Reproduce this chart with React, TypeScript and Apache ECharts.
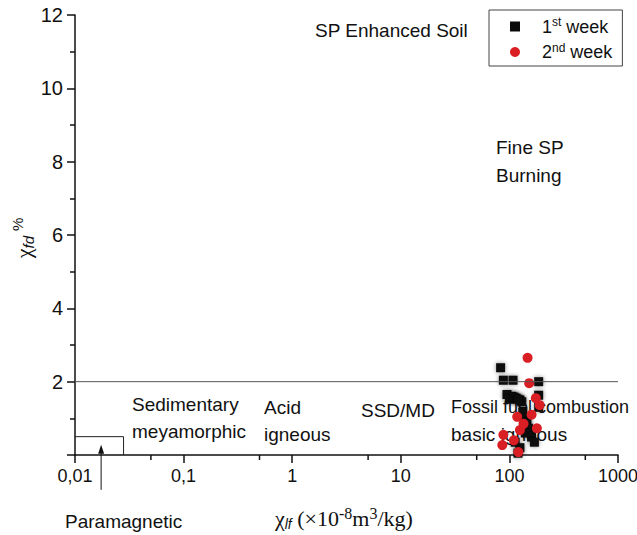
import React, { useEffect, useRef } from "react";
import * as echarts from "echarts";

const xTickLabels = ["0,01", "0,1", "1", "10", "100", "1000"];
const xMinorTicks = [0.05, 0.5, 5, 50, 500];
const yTicks = [0, 2, 4, 6, 8, 10, 12];

// 1st week (black squares): [chi_lf, chi_fd %]
const week1 = [
  [83, 2.38], [88, 2.04], [108, 2.04], [186, 2.0], [95, 1.65], [105, 1.6],
  [115, 1.55], [125, 1.5], [100, 1.52], [186, 1.63], [186, 1.3], [133, 1.17],
  [140, 1.0], [145, 0.9], [150, 0.73], [160, 0.49], [113, 0.35], [125, 0.2],
  [120, 0.05], [170, 0.35], [140, 0.6], [130, 1.45], [110, 1.58], [120, 1.52],
];
// 2nd week (red circles)
const week2 = [
  [147, 2.65], [152, 1.96], [190, 1.36], [175, 1.55], [118, 1.04], [179, 0.73],
  [125, 0.68], [88, 0.55], [86, 0.27], [121, 0.08], [110, 0.4], [135, 0.85],
  [160, 1.1],
];

const thresholdLine = [[0.01, 2], [1000, 2]];
const paramagneticBox = [[0.01, 0.5], [0.028, 0.5], [0.028, 0]];
const paramagneticArrow = [[0.0174, -0.95], [0.0174, 0.16]];

const SANS = "'Liberation Sans', Arial, sans-serif";
const SERIF = "'Liberation Serif', 'Times New Roman', serif";

export default function App() {
  const ref = useRef<HTMLDivElement>(null);
  useEffect(() => {
    document.body.style.margin = "0";
    const chart = echarts.init(ref.current!, null, { renderer: "svg" });
    const txt = (text: string, x: number, y: number, size = 19) => ({
      type: "text",
      x,
      y,
      style: { text, fontSize: size, fontFamily: SANS, fill: "#111", verticalAlign: "middle", align: "left" },
    });
    chart.setOption({
      animation: false,
      backgroundColor: "#fff",
      grid: { left: 75, right: 19, top: 15, bottom: 80, containLabel: false, outerBoundsMode: "none" },
      xAxis: {
        type: "log",
        logBase: 10,
        min: 0.01,
        max: 1000,
        axisLine: { lineStyle: { color: "#111", width: 1.5 } },
        axisTick: { inside: false, length: 8, lineStyle: { color: "#111", width: 1.5 } },
        axisLabel: {
          margin: 12,
          fontSize: 18,
          fontFamily: SANS,
          color: "#111",
          formatter: (v: number) => {
            const i = Math.round(Math.log10(v)) + 2;
            return xTickLabels[i] ?? String(v);
          },
        },
        splitLine: { show: false },
      },
      yAxis: {
        type: "value",
        min: yTicks[0],
        max: yTicks[yTicks.length - 1],
        interval: 2,
        axisLine: { show: true, lineStyle: { color: "#111", width: 1.5 } },
        axisTick: { show: true, inside: false, length: 8, lineStyle: { color: "#111", width: 1.5 } },
        minorTick: { show: true, splitNumber: 2, length: 5, lineStyle: { color: "#111", width: 1.5 } },
        axisLabel: {
          margin: 12,
          fontSize: 20,
          fontFamily: SANS,
          color: "#111",
          formatter: (v: number) => (v === 0 ? "" : String(v)),
        },
        splitLine: { show: false },
      },
      legend: {
        left: 489,
        top: 10,
        orient: "vertical",
        borderColor: "#444",
        borderWidth: 1,
        borderRadius: 0,
        padding: [6, 10, 5, 21],
        itemGap: 6,
        itemWidth: 10,
        itemHeight: 10,
        data: ["1st week", "2nd week"],
        formatter: (name: string) =>
          name === "1st week" ? "{f|1}{s|st}{n| week}" : "{f|2}{s|nd}{n| week}",
        textStyle: {
          rich: {
            f: { fontSize: 18, fontFamily: SANS, color: "#111", lineHeight: 21, padding: [0, 0, 0, 17] },
            n: { fontSize: 18, fontFamily: SANS, color: "#111", lineHeight: 21 },
            s: { fontSize: 12, fontFamily: SANS, color: "#111", lineHeight: 12, verticalAlign: "top" },
          },
        },
      },
      series: [
        {
          type: "line",
          data: thresholdLine,
          symbol: "none",
          lineStyle: { color: "#555", width: 1 },
          silent: true,
        },
        {
          type: "line",
          data: paramagneticBox,
          symbol: "none",
          lineStyle: { color: "#222", width: 1 },
          silent: true,
        },
        {
          type: "line",
          data: [
            { value: paramagneticArrow[0], symbol: "none" },
            { value: paramagneticArrow[1], symbol: "triangle", symbolSize: [6, 9] },
          ],
          showSymbol: true,
          clip: false,
          itemStyle: { color: "#111" },
          lineStyle: { color: "#111", width: 1 },
          silent: true,
        },
        {
          type: "custom",
          clip: false,
          silent: true,
          data: xMinorTicks.map((v) => [v, 0]),
          renderItem: (params: any, api: any) => {
            const p = api.coord([api.value(0), 0]);
            return {
              type: "line",
              shape: { x1: p[0], y1: p[1], x2: p[0], y2: p[1] + 5 },
              style: { stroke: "#111", lineWidth: 1.5 },
            };
          },
        },
        {
          name: "1st week",
          type: "scatter",
          symbol: "rect",
          symbolSize: 9,
          data: week1,
          itemStyle: { color: "#0a0a0a", opacity: 1, shadowBlur: 4, shadowColor: "rgba(0,0,0,0.45)" },
        },
        {
          name: "2nd week",
          type: "scatter",
          symbol: "circle",
          symbolSize: 10,
          data: week2,
          itemStyle: { color: "#d91e24", opacity: 1 },
        },
      ],
      graphic: [
        txt("SP Enhanced Soil", 315, 30),
        txt("Fine SP", 496, 147),
        txt("Burning", 496, 175),
        txt("Sedimentary", 132, 404),
        txt("meyamorphic", 132, 431),
        txt("Acid", 264, 407),
        txt("igneous", 264, 434),
        txt("SSD/MD", 361, 410),
        txt("Fossil fuel combustion", 451, 407, 18),
        txt("basic igneous", 451, 434),
        txt("Paramagnetic", 65, 521),
        {
          type: "text",
          x: 275,
          y: 518,
          style: {
            text: "{c|χ}{sub|lf}{m| (×10}{sup|-8}{m|m}{sup|3}{m|/kg)}",
            verticalAlign: "middle",
            align: "left",
            fill: "#111",
            rich: {
              c: { fontSize: 22, fontFamily: SERIF, lineHeight: 26, fill: "#111" },
              sub: { fontSize: 14, fontFamily: SANS, fontStyle: "italic", lineHeight: 15, verticalAlign: "bottom", fill: "#111" },
              m: { fontSize: 22, fontFamily: SERIF, lineHeight: 26, fill: "#111" },
              sup: { fontSize: 16, fontFamily: SERIF, lineHeight: 16, verticalAlign: "top", fill: "#111" },
            },
          },
        },
        {
          type: "text",
          x: 23,
          y: 238,
          rotation: Math.PI / 2,
          style: {
            text: "{c|χ}{sub|fd}{m| }{sup|%}",
            verticalAlign: "middle",
            align: "center",
            fill: "#111",
            rich: {
              c: { fontSize: 22, fontFamily: SERIF, lineHeight: 26, fill: "#111" },
              sub: { fontSize: 15, fontFamily: SANS, fontStyle: "italic", lineHeight: 15, verticalAlign: "bottom", fill: "#111" },
              m: { fontSize: 18, fontFamily: SANS, lineHeight: 26, fill: "#111" },
              sup: { fontSize: 15, fontFamily: SANS, lineHeight: 16, verticalAlign: "top", fill: "#111" },
            },
          },
        },
      ],
    });
    return () => chart.dispose();
  }, []);
  return <div ref={ref} style={{ width: 637, height: 535 }} />;
}
